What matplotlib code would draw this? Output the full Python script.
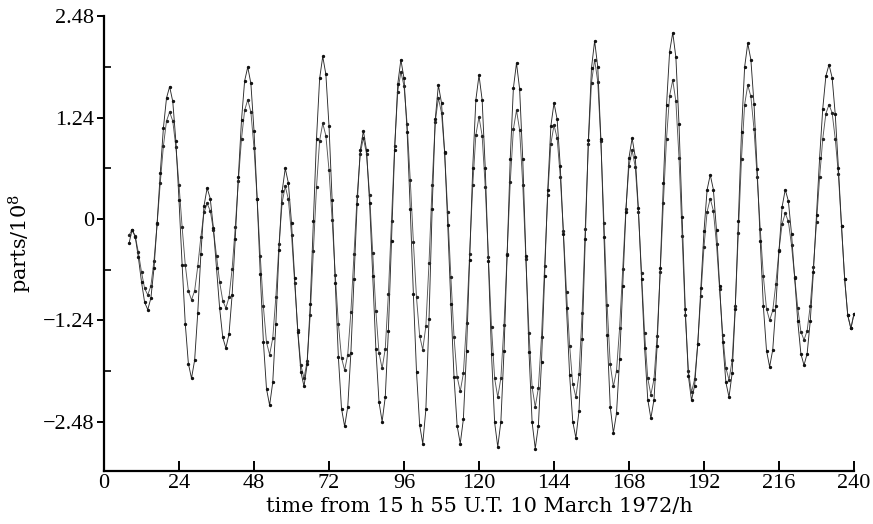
import matplotlib
matplotlib.use("Agg")
import matplotlib.pyplot as plt

# hourly sample times (h)
hours = list(range(8, 241))

# larger-amplitude series
series_a = [
    -0.30, -0.13, -0.22, -0.47, -0.77, -1.02, -1.11,                 # 8-14
    -0.97, -0.60, -0.05, 0.56, 1.11, 1.48, 1.62,                     # 15-21
    1.44, 0.95, 0.23, -0.56, -1.28, -1.77, -1.95,                    # 22-28
    -1.73, -1.15, -0.43, 0.16, 0.38,                                 # 29-33
    0.25, -0.11, -0.60, -1.09, -1.45, -1.58,                         # 34-39
    -1.41, -0.93, -0.24, 0.52, 1.21, 1.69, 1.86,                     # 40-46
    1.66, 1.08, 0.25, -0.67, -1.50, -2.08, -2.28,                    # 47-53
    -2.00, -1.28, -0.38, 0.34, 0.62,                                 # 54-58
    0.44, -0.05, -0.72, -1.38, -1.87, -2.05,                         # 59-64
    -1.78, -1.04, -0.03, 0.98, 1.72, 1.99,                           # 65-70
    1.77, 1.14, 0.23, -0.78, -1.69, -2.32, -2.54,                    # 71-77
    -2.30, -1.64, -0.73, 0.18, 0.84, 1.08,                           # 78-83
    0.84, 0.19, -0.70, -1.59, -2.24, -2.48,                          # 84-89
    -2.18, -1.37, -0.27, 0.84, 1.65, 1.95,                           # 90-95
    1.72, 1.07, 0.12, -0.92, -1.87, -2.52, -2.75,                    # 96-102
    -2.33, -1.23, 0.12, 1.22, 1.64,                                  # 103-107
    1.42, 0.82, -0.07, -1.04, -1.93, -2.53, -2.75,                   # 108-114
    -2.45, -1.62, -0.50, 0.63, 1.46, 1.76,                           # 115-120
    1.46, 0.62, -0.52, -1.65, -2.49, -2.79,                          # 121-126
    -2.48, -1.62, -0.44, 0.74, 1.60, 1.91,                           # 127-132
    1.59, 0.73, -0.45, -1.63, -2.49, -2.81,                          # 133-138
    -2.53, -1.75, -0.70, 0.36, 1.14, 1.42,                           # 139-144
    1.22, 0.65, -0.18, -1.09, -1.91, -2.48, -2.68,                   # 145-151
    -2.35, -1.47, -0.25, 0.97, 1.85, 2.18,                           # 152-157
    1.86, 0.98, -0.22, -1.42, -2.30, -2.62,                          # 158-163
    -2.38, -1.72, -0.82, 0.09, 0.75, 0.99,                           # 164-169
    0.76, 0.13, -0.73, -1.58, -2.21, -2.44,                          # 170-175
    -2.21, -1.55, -0.60, 0.44, 1.39, 2.05, 2.28,                     # 176-182
    1.98, 1.16, 0.03, -1.10, -1.92, -2.22,                           # 183-188
    -2.04, -1.53, -0.84, -0.15, 0.36, 0.54,                          # 189-194
    0.36, -0.14, -0.82, -1.50, -2.00, -2.18,                         # 195-200
    -1.89, -1.10, -0.02, 1.07, 1.86, 2.15,                           # 201-206
    1.95, 1.41, 0.61, -0.27, -1.07, -1.61, -1.81,                    # 207-213
    -1.60, -1.06, -0.39, 0.15, 0.36,                                 # 214-218
    0.22, -0.18, -0.72, -1.25, -1.65, -1.79,                         # 219-224
    -1.65, -1.25, -0.65, 0.05, 0.75, 1.35, 1.75, 1.89,               # 225-232
    1.73, 1.28, 0.63, -0.08, -0.73, -1.18, -1.34, -1.16,             # 233-240
]

# smaller-amplitude series
series_b = [
    -0.20, -0.13, -0.21, -0.41, -0.65, -0.85, -0.93,                 # 8-14
    -0.82, -0.51, -0.06, 0.44, 0.89, 1.20, 1.31,                     # 15-21
    1.20, 0.88, 0.42, -0.10, -0.56, -0.88, -0.99,                    # 22-28
    -0.88, -0.58, -0.22, 0.08, 0.19,                                 # 29-33
    0.10, -0.13, -0.45, -0.77, -1.00, -1.09,                         # 34-39
    -0.96, -0.61, -0.10, 0.47, 0.98, 1.33, 1.46,                     # 40-46
    1.31, 0.87, 0.25, -0.45, -1.07, -1.51, -1.66,                    # 47-53
    -1.46, -0.95, -0.31, 0.20, 0.40,                                 # 54-58
    0.24, -0.19, -0.78, -1.36, -1.79, -1.95,                         # 59-64
    -1.74, -1.17, -0.39, 0.39, 0.96, 1.17,                           # 65-70
    1.02, 0.60, -0.01, -0.68, -1.28, -1.70, -1.85,                   # 71-77
    -1.66, -1.14, -0.43, 0.28, 0.80, 0.99,                           # 78-83
    0.80, 0.29, -0.42, -1.13, -1.64, -1.83,                          # 84-89
    -1.59, -0.92, -0.02, 0.89, 1.56, 1.80,                           # 90-95
    1.63, 1.16, 0.48, -0.28, -0.96, -1.43, -1.60,                    # 96-102
    -1.31, -0.54, 0.42, 1.19, 1.48,                                  # 103-107
    1.30, 0.81, 0.08, -0.71, -1.44, -1.93, -2.11,                    # 108-114
    -1.89, -1.27, -0.43, 0.41, 1.03, 1.25,                           # 115-120
    1.02, 0.39, -0.47, -1.32, -1.95, -2.18,                          # 121-126
    -1.95, -1.30, -0.43, 0.45, 1.10, 1.33,                           # 127-132
    1.09, 0.42, -0.49, -1.39, -2.06, -2.30,                          # 133-138
    -2.07, -1.44, -0.58, 0.29, 0.92, 1.15,                           # 139-144
    0.99, 0.52, -0.15, -0.89, -1.55, -2.02, -2.18,                   # 145-151
    -1.90, -1.15, -0.12, 0.92, 1.67, 1.95,                           # 152-157
    1.68, 0.95, -0.05, -1.05, -1.78, -2.05,                          # 158-163
    -1.86, -1.33, -0.61, 0.12, 0.65, 0.84,                           # 164-169
    0.64, 0.09, -0.66, -1.40, -1.95, -2.15,                          # 170-175
    -1.96, -1.43, -0.65, 0.20, 0.98, 1.51, 1.70,                     # 176-182
    1.44, 0.75, -0.21, -1.17, -1.86, -2.12,                          # 183-188
    -1.96, -1.53, -0.94, -0.34, 0.09, 0.25,                          # 189-194
    0.10, -0.31, -0.86, -1.42, -1.82, -1.97,                         # 195-200
    -1.73, -1.07, -0.17, 0.74, 1.40, 1.64,                           # 201-206
    1.50, 1.10, 0.52, -0.12, -0.70, -1.10, -1.24,                    # 207-213
    -1.12, -0.79, -0.38, -0.06, 0.07,                                # 214-218
    -0.03, -0.32, -0.71, -1.09, -1.38, -1.48,                        # 219-224
    -1.37, -1.06, -0.59, -0.04, 0.51, 0.98, 1.29, 1.40,              # 225-232
    1.30, 0.98, 0.55, -0.08, -0.73, -1.18, -1.34, -1.16,             # 233-240
]

x_ticks = [0, 24, 48, 72, 96, 120, 144, 168, 192, 216, 240]
y_ticks = [-2.48, -1.24, 0, 1.24, 2.48]
y_tick_labels = ["\u22122.48", "\u22121.24", "0", "1.24", "2.48"]
y_minor = [-1.86, -0.62, 0.62, 1.86]

plt.rcParams["font.family"] = ["Liberation Serif", "DejaVu Serif"]
plt.rcParams["mathtext.fontset"] = "dejavuserif"

fig = plt.figure(figsize=(8.73, 5.24), dpi=100)
ax = fig.add_axes([104 / 873, 1 - 471 / 524, 750 / 873, (471 - 16.4) / 524])

ax.plot(hours, series_b, color="#555555", lw=0.65, marker="o", ms=1.4,
        mfc="#222222", mec="#222222")
ax.plot(hours, series_a, color="#2a2a2a", lw=0.65, marker="o", ms=1.4,
        mfc="#111111", mec="#111111")

ax.set_xlim(0, 240)
ax.set_ylim(-3.085, 2.48)

for s in ("top", "right"):
    ax.spines[s].set_visible(False)
for s in ("left", "bottom"):
    ax.spines[s].set_linewidth(1.6)

ax.set_xticks(x_ticks)
ax.set_xticklabels([str(v) for v in x_ticks])
ax.set_yticks(y_ticks)
ax.set_yticklabels(y_tick_labels)
ax.set_yticks(y_minor, minor=True)

ax.tick_params(axis="x", direction="in", length=7, width=1.4, labelsize=16, pad=2)
ax.tick_params(axis="y", which="major", direction="out", length=5, width=1.4,
               labelsize=16, pad=2)
ax.tick_params(axis="y", which="minor", direction="in", length=5, width=1.2)

ax.set_xlabel("time from 15 h 55 U.T. 10 March 1972/h", fontsize=15,
              family="DejaVu Serif", labelpad=3)
ax.set_ylabel("parts/10$^8$", fontsize=15, family="DejaVu Serif", labelpad=6)

fig.savefig("out.png", dpi=100)
